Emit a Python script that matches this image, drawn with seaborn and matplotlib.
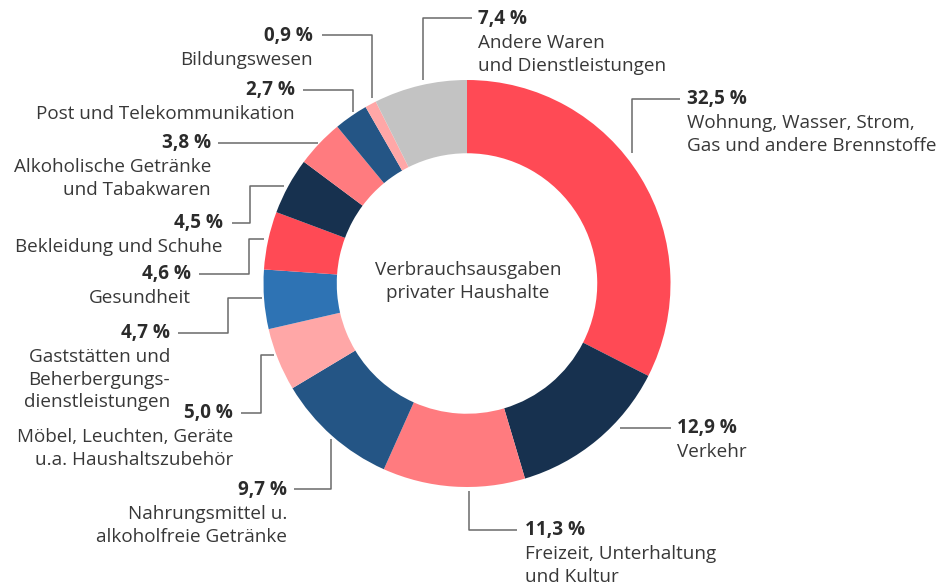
import numpy as np
import pandas as pd
import matplotlib.pyplot as plt
import seaborn as sns

# data (clockwise from 12 o'clock)
categories = [
    "Wohnung, Wasser, Strom,\nGas und andere Brennstoffe",
    "Verkehr",
    "Freizeit, Unterhaltung\nund Kultur",
    "Nahrungsmittel u.\nalkoholfreie Getränke",
    "Möbel, Leuchten, Geräte\nu.a. Haushaltszubehör",
    "Gaststätten und\nBeherbergungs-\ndienstleistungen",
    "Gesundheit",
    "Bekleidung und Schuhe",
    "Alkoholische Getränke\nund Tabakwaren",
    "Post und Telekommunikation",
    "Bildungswesen",
    "Andere Waren\nund Dienstleistungen",
]
shares = [32.5, 12.9, 11.3, 9.7, 5.0, 4.7, 4.6, 4.5, 3.8, 2.7, 0.9, 7.4]
center_title = "Verbrauchsausgaben\nprivater Haushalte"

red, navy, salmon, dblue, pink, blue, grey = (
    "#FF4A55", "#17314F", "#FF7B7F", "#245585", "#FFA7A7", "#2E73B4", "#C3C3C3")
colors = [red, navy, salmon, dblue, pink, blue, red, navy, salmon, dblue, pink, grey]

# label layout in pixels: (text x, text y, ha, leader line points)
label_layout = [
    (687, 99, "left", [(632, 153), (632, 99), (680, 99)]),
    (677, 428, "left", [(620, 428), (671, 428)]),
    (525, 530, "left", [(469, 491), (469, 530), (517, 530)]),
    (287, 490, "right", [(331, 439), (331, 489), (294, 489)]),
    (233, 413, "right", [(274, 355), (261, 355), (261, 413), (241, 413)]),
    (170, 333, "right", [(262, 298), (228, 298), (228, 333), (178, 333)]),
    (191, 274, "right", [(264, 239), (249, 239), (249, 274), (199, 274)]),
    (223, 223, "right", [(284, 186), (250, 186), (250, 223), (232, 223)]),
    (211, 143, "right", [(318, 143), (218, 143)]),
    (295, 90, "right", [(353, 112), (353, 90), (303, 90)]),
    (313, 36, "right", [(372, 98), (372, 35), (322, 35)]),
    (478, 19, "left", [(423, 80), (423, 18), (472, 18)]),
]

sns.set_theme(style="white")
plt.rcParams["font.family"] = ["Open Sans", "DejaVu Sans"]

W, H = 941, 585
fig = plt.figure(figsize=(W / 100, H / 100), dpi=100)
ax = fig.add_axes([0, 0, 1, 1])

cx, cy, R = 467, 283.5, 203.5
ax.pie(shares, colors=colors, center=(cx, cy), radius=R,
       startangle=-90, counterclock=True,
       wedgeprops=dict(width=R * 0.36, linewidth=0))

ax.set_xlim(0, W)
ax.set_ylim(H, 0)
ax.set_aspect("equal")
ax.axis("off")

txt = "#383838"
line_c = "#6a6a6a"
fs = 13.6
for cat, val, (tx, ty, ha, pts) in zip(categories, shares, label_layout):
    xs, ys = zip(*pts)
    ax.plot(xs, ys, color=line_c, lw=1.1, solid_capstyle="butt")
    pct = f"{val:.1f} %".replace(".", ",")
    ax.text(tx, ty, pct, ha=ha, va="center", fontsize=fs,
            fontweight="bold", color="#2b2b2b")
    for i, line in enumerate(cat.split("\n")):
        ax.text(tx, ty + 24 + 22.7 * i, line, ha=ha, va="center",
                fontsize=fs, color=txt)

for i, line in enumerate(center_title.split("\n")):
    ax.text(468, 270 + 23 * i, line, ha="center", va="center",
            fontsize=fs, color=txt)

fig.savefig("out.png", dpi=100)
